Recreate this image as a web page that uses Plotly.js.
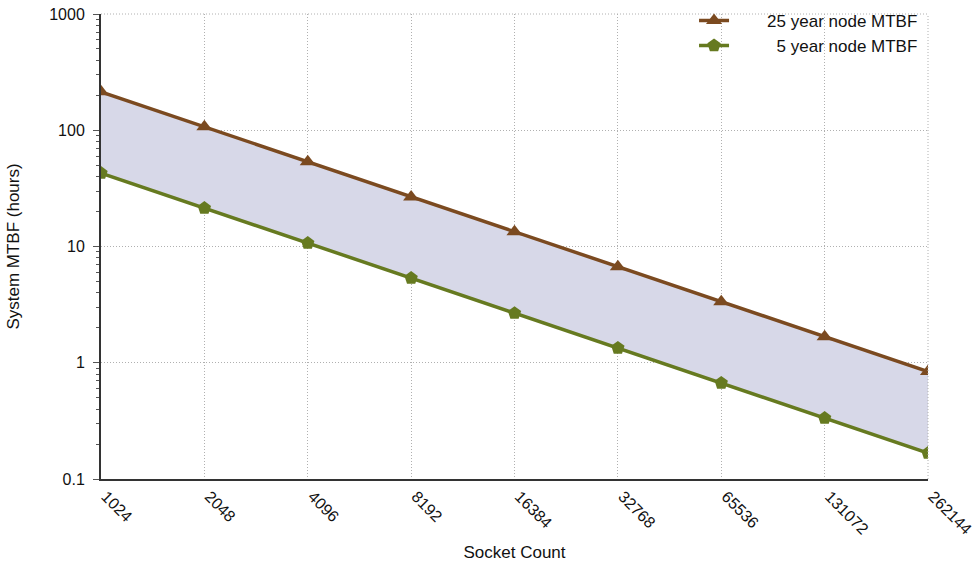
<!DOCTYPE html>
<html><head><meta charset="utf-8">
<script src="https://cdn.plot.ly/plotly-3.0.1.min.js"></script>
<style>html,body{margin:0;padding:0;background:#fff}#chart{width:974px;height:567px}</style>
</head><body><div id="chart"></div>
<script>
var sockets = ["1024","2048","4096","8192","16384","32768","65536","131072","262144"];
var mtbf25 = [214, 107, 53.5, 26.7, 13.4, 6.7, 3.35, 1.67, 0.84];
var mtbf5 = [42.8, 21.4, 10.7, 5.35, 2.67, 1.34, 0.67, 0.334, 0.167];
var yTickVals = [0.1, 1, 10, 100, 1000];
var yTickText = ["0.1", "1", "10", "100", "1000"];

var idx = sockets.map(function(_, i){ return i; });
var brown = "#7b4a20", green = "#667a20";

var traces = [
  {x: idx, y: mtbf5, mode: "lines", line: {width: 0, color: "rgba(0,0,0,0)"},
   showlegend: false, hoverinfo: "skip"},
  {x: idx, y: mtbf25, mode: "lines", line: {width: 0, color: "rgba(0,0,0,0)"},
   fill: "tonexty", fillcolor: "#d7d8e8", showlegend: false, hoverinfo: "skip"},
  {x: idx, y: mtbf25, name: "       25 year node MTBF", mode: "lines+markers",
   line: {color: brown, width: 3.5}, marker: {symbol: "triangle-up", size: 14, color: brown}},
  {x: idx, y: mtbf5, name: "         5 year node MTBF", mode: "lines+markers",
   line: {color: green, width: 3.5}, marker: {symbol: "pentagon", size: 14, color: green}}
];

var layout = {
  width: 974, height: 567,
  margin: {l: 101, r: 46, t: 14, b: 88, autoexpand: false},
  paper_bgcolor: "#fff", plot_bgcolor: "#fff",
  font: {family: "Liberation Sans, Arial, sans-serif", size: 16, color: "#111"},
  showlegend: true,
  legend: {x: 0.994, xanchor: "right", y: 1.024, yanchor: "top", traceorder: "normal",
           bgcolor: "rgba(0,0,0,0)", font: {size: 17}, tracegroupgap: 0},
  xaxis: {
    range: [0, 8], tickvals: idx, ticktext: sockets, tickangle: 45,
    showgrid: true, gridcolor: "#b0b0b0", griddash: "1px,2px", gridwidth: 1,
    showline: true, linecolor: "#333", linewidth: 2, zeroline: false,
    ticks: "", tickfont: {size: 16}, automargin: false,
    ticklabelshift: 5, ticklabeloverflow: "allow",
    title: {text: "Socket Count", font: {size: 17}, standoff: 9}
  },
  yaxis: {
    type: "log", range: [-1, 3], tickvals: yTickVals, ticktext: yTickText,
    showgrid: true, gridcolor: "#b0b0b0", griddash: "1px,2px", gridwidth: 1,
    showline: true, linecolor: "#333", linewidth: 2, zeroline: false,
    ticks: "outside", ticklen: 6, tickcolor: "#555",
    minor: {dtick: "D1", ticks: "outside", ticklen: 3, tickcolor: "#555", showgrid: false},
    tickfont: {size: 16}, automargin: false, ticklabelstandoff: 5,
    title: {text: "System MTBF (hours)", font: {size: 17}, standoff: 25}
  },
  shapes: [
    {type: "line", xref: "paper", yref: "paper", x0: 0, x1: 1, y0: 1, y1: 1,
     line: {color: "#b0b0b0", width: 1, dash: "1px,2px"}},
    {type: "line", xref: "paper", yref: "paper", x0: 1, x1: 1, y0: 0, y1: 1,
     line: {color: "#b0b0b0", width: 1, dash: "1px,2px"}}
  ]
};
Plotly.newPlot("chart", traces, layout, {displayModeBar: false, staticPlot: true});
</script></body></html>
